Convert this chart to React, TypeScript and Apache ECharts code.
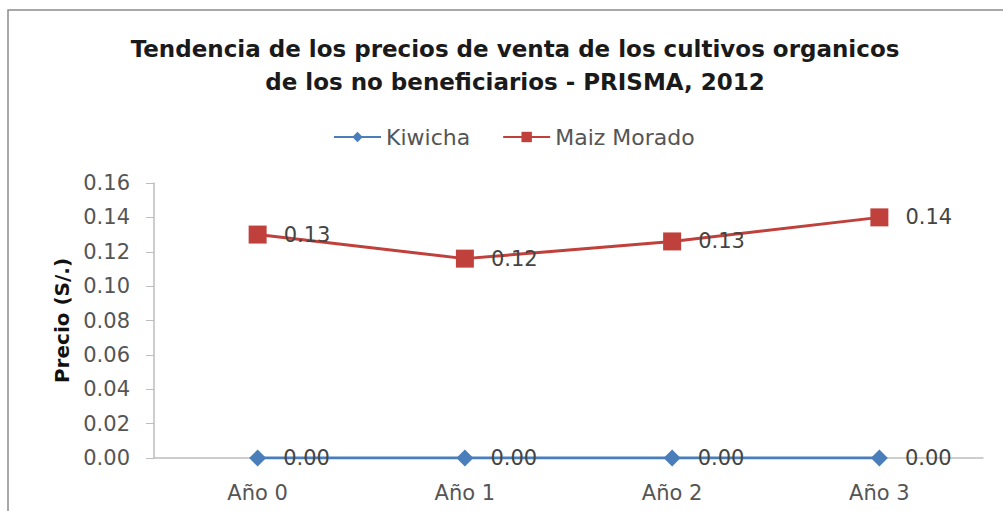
import React, { useEffect, useRef } from "react";
import * as echarts from "echarts";

const categories = ["Año 0", "Año 1", "Año 2", "Año 3"];
const kiwicha = [0, 0, 0, 0];
const maizMorado = [0.13, 0.116, 0.126, 0.14];
const titleText = "Tendencia de los precios de venta de los cultivos organicos\nde los no beneficiarios - PRISMA, 2012";

const FONT = "'DejaVu Sans', sans-serif";

export default function App() {
  const ref = useRef<HTMLDivElement>(null);
  useEffect(() => {
    const chart = echarts.init(ref.current!, undefined, { renderer: "svg" });
    const labelCfg = {
      show: true,
      position: "right",
      distance: 17,
      fontFamily: FONT,
      fontSize: 21,
      color: "#444",
      formatter: (p: any) => p.value.toFixed(2),
    };
    chart.setOption({
      animation: false,
      backgroundColor: "#fff",
      graphic: [
        {
          type: "rect",
          shape: { x: 8, y: 10, width: 1000, height: 510 },
          style: { fill: "none", stroke: "#8c8c8c", lineWidth: 1.5 },
          silent: true,
        },
      ],
      title: {
        text: titleText,
        left: 510,
        textAlign: "center",
        top: 27,
        textStyle: {
          fontFamily: FONT,
          fontWeight: "bold",
          fontSize: 23,
          lineHeight: 33,
          color: "#1a1a1a",
        },
      },
      legend: {
        top: 121,
        left: 328,
        itemWidth: 47,
        itemHeight: 13,
        itemGap: 32,
        textStyle: { fontFamily: FONT, fontSize: 22, color: "#555" },
        data: ["Kiwicha", "Maiz Morado"],
      },
      grid: { left: 154, right: 20, top: 183, bottom: 53 },
      xAxis: {
        type: "category",
        data: categories,
        boundaryGap: true,
        axisLine: { lineStyle: { color: "#bdbdbd", width: 1.5 } },
        axisTick: { show: false },
        axisLabel: { fontFamily: FONT, fontSize: 21, color: "#555", margin: 24 },
      },
      yAxis: {
        type: "value",
        min: 0,
        max: 0.16,
        interval: 0.02,
        name: "Precio (S/.)",
        nameLocation: "middle",
        nameGap: 72,
        nameTextStyle: { fontFamily: FONT, fontSize: 20, fontWeight: "bold", color: "#111" },
        axisLine: { show: true, lineStyle: { color: "#bdbdbd", width: 1.5 } },
        axisTick: { show: true, length: 8, lineStyle: { color: "#bdbdbd" } },
        splitLine: { show: false },
        axisLabel: {
          fontFamily: FONT,
          fontSize: 21,
          color: "#555",
          margin: 24,
          formatter: (v: number) => v.toFixed(2),
        },
      },
      series: [
        {
          name: "Kiwicha",
          type: "line",
          data: kiwicha,
          symbol: "diamond",
          symbolSize: 17,
          itemStyle: { color: "#4a7ebb" },
          lineStyle: { color: "#4a7ebb", width: 3 },
          label: labelCfg,
          z: 3,
        },
        {
          name: "Maiz Morado",
          type: "line",
          data: maizMorado,
          symbol: "rect",
          symbolSize: 18,
          itemStyle: { color: "#c0403c" },
          lineStyle: { color: "#c0403c", width: 3 },
          label: labelCfg,
          z: 3,
        },
      ],
    });
    return () => chart.dispose();
  }, []);
  return (
    <div
      ref={ref}
      style={{ position: "fixed", left: 0, top: 0, width: 1003, height: 511 }}
    />
  );
}
